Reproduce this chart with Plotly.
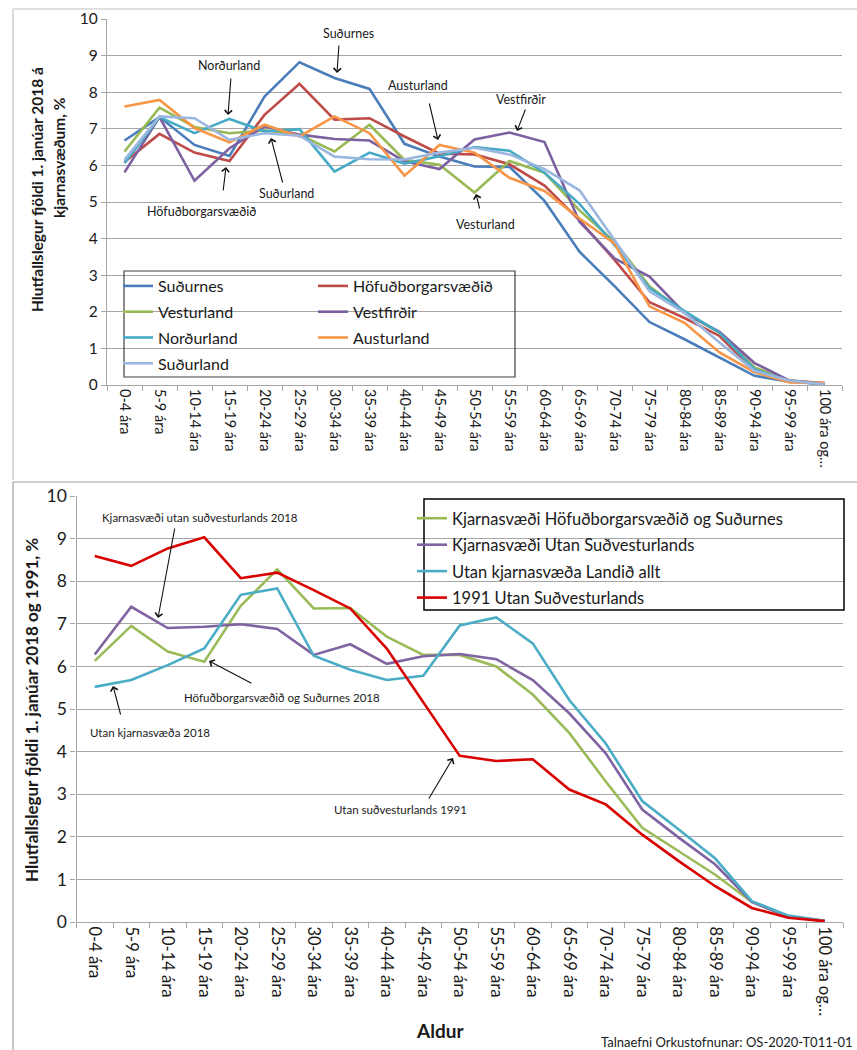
import plotly.graph_objects as go

W, H = 857, 1050


def px(x):
    return x / W


def py(y):
    return 1 - y / H


# ---------------- data ----------------
age_groups = ["0-4 ára", "5-9 ára", "10-14 ára", "15-19 ára", "20-24 ára", "25-29 ára",
              "30-34 ára", "35-39 ára", "40-44 ára", "45-49 ára", "50-54 ára", "55-59 ára",
              "60-64 ára", "65-69 ára", "70-74 ára", "75-79 ára", "80-84 ára", "85-89 ára",
              "90-94 ára", "95-99 ára", "100 ára og…"]

# Top chart: kjarnasvæði 2018 (%)
sudurnes = [6.68, 7.32, 6.56, 6.26, 7.88, 8.82, 8.39, 8.09, 6.59, 6.24, 5.97, 5.96, 5.03, 3.64,
            2.70, 1.72, 1.25, 0.75, 0.25, 0.09, 0.03]
hofudborgarsvaedid = [6.09, 6.86, 6.35, 6.12, 7.38, 8.23, 7.25, 7.29, 6.79, 6.32, 6.30, 6.03, 5.45,
                      4.50, 3.42, 2.26, 1.83, 1.34, 0.39, 0.12, 0.05]
vesturland = [6.38, 7.58, 7.05, 6.88, 6.96, 6.84, 6.38, 7.11, 6.15, 6.02, 5.26, 6.12, 5.80, 4.77,
              3.92, 2.70, 1.97, 1.43, 0.48, 0.12, 0.03]
vestfirdir = [5.81, 7.32, 5.58, 6.47, 7.06, 6.84, 6.72, 6.68, 6.11, 5.90, 6.71, 6.90, 6.64, 4.46,
              3.46, 2.96, 1.97, 1.45, 0.60, 0.12, 0.02]
nordurland = [6.06, 7.32, 6.88, 7.27, 6.93, 6.99, 5.83, 6.35, 6.05, 6.25, 6.50, 6.40, 5.80, 4.95,
              3.83, 2.65, 2.02, 1.43, 0.43, 0.10, 0.02]
austurland = [7.61, 7.79, 7.02, 6.63, 7.11, 6.79, 7.34, 6.88, 5.72, 6.56, 6.35, 5.66, 5.30, 4.55,
              3.87, 2.15, 1.70, 0.89, 0.35, 0.07, 0.05]
sudurland = [6.15, 7.34, 7.29, 6.70, 6.88, 6.81, 6.24, 6.17, 6.16, 6.35, 6.48, 6.30, 5.90, 5.32,
             3.96, 2.56, 1.97, 1.16, 0.39, 0.12, 0.02]

# Bottom chart (%)
kjarn_hofud_sudurnes = [6.13, 6.95, 6.35, 6.11, 7.42, 8.28, 7.36, 7.37, 6.70, 6.27, 6.27, 6.00, 5.34,
                        4.44, 3.30, 2.21, 1.66, 1.11, 0.47, 0.13, 0.02]
kjarn_utan_sv = [6.28, 7.40, 6.90, 6.93, 6.99, 6.88, 6.27, 6.52, 6.06, 6.24, 6.29, 6.17, 5.68, 4.90,
                 3.96, 2.64, 1.98, 1.35, 0.47, 0.13, 0.02]
utan_kjarn_allt = [5.52, 5.68, 6.03, 6.42, 7.68, 7.83, 6.25, 5.92, 5.68, 5.78, 6.96, 7.15, 6.54, 5.21,
                   4.19, 2.84, 2.17, 1.49, 0.49, 0.15, 0.03]
utan_sv_1991 = [8.59, 8.36, 8.77, 9.03, 8.07, 8.20, 7.79, 7.36, 6.42, 5.17, 3.90, 3.78, 3.82, 3.11,
                2.76, 2.05, 1.43, 0.84, 0.33, 0.10, 0.02]

top_names = ["Suðurnes", "Höfuðborgarsvæðið", "Vesturland", "Vestfirðir", "Norðurland",
             "Austurland", "Suðurland"]
top_values = [sudurnes, hofudborgarsvaedid, vesturland, vestfirdir, nordurland, austurland, sudurland]
top_colors = ["#4A7EBB", "#BE4B48", "#98B954", "#7D60A0", "#46AAC5", "#F79646", "#9BB7E0"]
top_legends = ["legend", "legend2", "legend", "legend2", "legend", "legend2", "legend"]

bot_names = ["Kjarnasvæði Höfuðborgarsvæðið og Suðurnes", "Kjarnasvæði Utan Suðvesturlands",
             "Utan kjarnasvæða Landið allt", "1991 Utan Suðvesturlands"]
bot_values = [kjarn_hofud_sudurnes, kjarn_utan_sv, utan_kjarn_allt, utan_sv_1991]
bot_colors = ["#9BBB59", "#8064A2", "#4BACC6", "#D90000"]

FONT = "Lato"
TXT = "#1a1a1a"
GRID = "#A6A6A6"

fig = go.Figure()

for name, vals, col, leg in zip(top_names, top_values, top_colors, top_legends):
    fig.add_trace(go.Scatter(x=age_groups, y=vals, name=name, mode="lines",
                             line=dict(color=col, width=2.6), xaxis="x", yaxis="y",
                             legend=leg, legendgroup=name))

for name, vals, col in zip(bot_names, bot_values, bot_colors):
    fig.add_trace(go.Scatter(x=age_groups, y=vals, name=name, mode="lines",
                             line=dict(color=col, width=2.6), xaxis="x2", yaxis="y2",
                             legend="legend3", legendgroup=name))

axis_common = dict(showline=True, linecolor=GRID, linewidth=1.3, ticks="outside",
                   tickcolor=GRID, ticklen=5, tickwidth=1.2, zeroline=False, automargin=False)

fig.update_layout(
    width=W, height=H, margin=dict(l=0, r=0, t=0, b=0, pad=0, autoexpand=False),
    paper_bgcolor="white", plot_bgcolor="white",
    font=dict(family=FONT, color=TXT),
    showlegend=True,
    xaxis=dict(domain=[px(107), px(842)], anchor="y", type="category", range=[-0.5, 20.5],
               tickson="boundaries", tickangle=90, showgrid=False,
               tickfont=dict(size=14.5, family=FONT, color=TXT), **axis_common),
    yaxis=dict(domain=[py(385), py(19)], anchor="x", range=[0, 10], dtick=1,
               showgrid=True, gridcolor=GRID, gridwidth=1.3,
               tickfont=dict(size=15.5, family=FONT, color=TXT), **axis_common),
    xaxis2=dict(domain=[px(76.5), px(843)], anchor="y2", type="category", range=[-0.5, 20.5],
                tickson="boundaries", tickangle=90, showgrid=False,
                tickfont=dict(size=16.5, family=FONT, color=TXT), **axis_common),
    yaxis2=dict(domain=[py(922), py(496)], anchor="x2", range=[0, 10], dtick=1,
                showgrid=True, gridcolor=GRID, gridwidth=1.3,
                tickfont=dict(size=17.5, family=FONT, color=TXT), **axis_common),
    legend=dict(x=px(118), y=py(269), xanchor="left", yanchor="top", bgcolor="rgba(0,0,0,0)",
                font=dict(size=16, family=FONT, color=TXT), tracegroupgap=2,
                traceorder="grouped"),
    legend2=dict(x=px(313), y=py(269), xanchor="left", yanchor="top", bgcolor="rgba(0,0,0,0)",
                 font=dict(size=16, family=FONT, color=TXT), tracegroupgap=2,
                 traceorder="grouped"),
    legend3=dict(x=px(412), y=py(501), xanchor="left", yanchor="top", bgcolor="rgba(0,0,0,0)",
                 font=dict(size=16.5, family=FONT, color=TXT), tracegroupgap=2,
                 traceorder="grouped"),
)

shapes = [
    # panel borders
    dict(type="line", xref="paper", yref="paper", x0=px(13), x1=px(857), y0=py(9), y1=py(9),
         line=dict(color="#BFBFBF", width=1.2)),
    dict(type="line", xref="paper", yref="paper", x0=px(13), x1=px(13), y0=py(9), y1=py(480),
         line=dict(color="#BFBFBF", width=1.2)),
    dict(type="line", xref="paper", yref="paper", x0=px(13), x1=px(857), y0=py(482), y1=py(482),
         line=dict(color="#A0A0A0", width=1.2)),
    dict(type="line", xref="paper", yref="paper", x0=px(13), x1=px(13), y0=py(482), y1=py(1050),
         line=dict(color="#A0A0A0", width=1.2)),
    # legend boxes
    dict(type="rect", xref="paper", yref="paper", x0=px(124), x1=px(515), y0=py(377), y1=py(271),
         line=dict(color="#404040", width=1.2), fillcolor="rgba(255,255,255,0)"),
    dict(type="rect", xref="paper", yref="paper", x0=px(424), x1=px(844), y0=py(610), y1=py(499),
         line=dict(color="#000000", width=1.5), fillcolor="rgba(255,255,255,0)"),
]
fig.update_layout(shapes=shapes)

annotations = []


def label(text, x, y, size=12.5, bold=False, angle=0, xanchor="center"):
    t = f"<b>{text}</b>" if bold else text
    annotations.append(dict(text=t, x=px(x), y=py(y), xref="paper", yref="paper",
                            showarrow=False, textangle=angle, xanchor=xanchor, yanchor="middle",
                            font=dict(size=size, family=FONT, color=TXT)))


def arrow(tx, ty, hx, hy):
    annotations.append(dict(text="", x=px(hx), y=py(hy), xref="paper", yref="paper",
                            ax=tx - hx, ay=ty - hy, axref="pixel", ayref="pixel",
                            showarrow=True, arrowhead=4, arrowsize=1.3, arrowwidth=1.1,
                            arrowcolor="#111111", standoff=0, startstandoff=0))


# top chart callouts
label("Suðurnes", 348, 33)
arrow(339, 44, 337, 73)
label("Norðurland", 229, 66)
arrow(231, 77, 228, 115)
label("Austurland", 418, 85)
arrow(429, 102, 438, 140)
label("Vestfirðir", 521, 99)
arrow(526, 108, 517, 131)
label("Suðurland", 286, 193)
arrow(283, 184, 271, 138)
label("Höfuðborgarsvæðið", 201, 211)
arrow(223, 192, 226, 167)
label("Vesturland", 485, 224)
arrow(480, 210, 476, 194)

# bottom chart callouts
label("Kjarnasvæði utan suðvesturlands 2018", 200, 517, size=11.5)
arrow(175, 527, 158, 618)
label("Höfuðborgarsvæðið og Suðurnes 2018", 282, 697, size=11.5)
arrow(253, 684, 209, 661)
label("Utan kjarnasvæða 2018", 150, 732, size=11.5)
arrow(121, 716, 113, 686)
label("Utan suðvesturlands 1991", 400, 809, size=11.5)
arrow(428, 800, 453, 758)

# axis titles
label("Hlutfallslegur fjöldi 1. janúar 2018 á", 37, 190, size=15.5, bold=True, angle=-90)
label("kjarnasvæðum, %", 59, 158, size=15.5, bold=True, angle=-90)
label("Hlutfallslegur fjöldi 1. janúar 2018 og 1991, %", 31, 710, size=17, bold=True, angle=-90)
label("Aldur", 440, 1030, size=19, bold=True)
label("Talnaefni Orkustofnunar: OS-2020-T011-01", 855, 1042, size=13, xanchor="right")

fig.update_layout(annotations=annotations)

fig.write_html(
    "out.html",
    config={"displayModeBar": False},
    post_script="document.body.style.margin='0';document.body.style.padding='0';"
                "document.body.style.overflow='hidden';",
)
